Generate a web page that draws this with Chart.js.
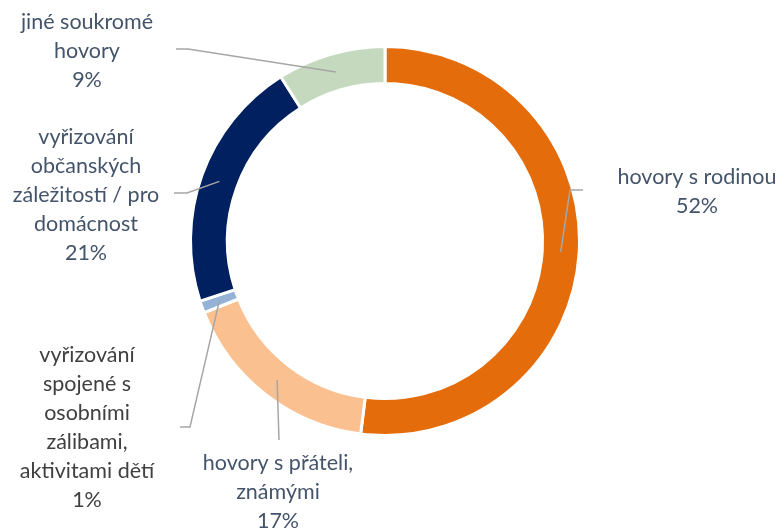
<!DOCTYPE html>
<html>
<head>
<meta charset="utf-8">
<script src="https://cdn.jsdelivr.net/npm/chart.js@4.4.0/dist/chart.umd.min.js"></script>
<style>
  html, body { margin: 0; padding: 0; background: #fff; }
  #wrap { width: 783px; height: 530px; }
</style>
</head>
<body>
<div id="wrap"><canvas id="myChart" width="783" height="530"></canvas></div>
<script>
const categories = [
    ['hovory s rodinou'],
    ['hovory s přáteli,', 'známými'],
    ['vyřizování', 'spojené s', 'osobními', 'zálibami,', 'aktivitami dětí'],
    ['vyřizování', 'občanských', 'záležitostí / pro', 'domácnost'],
    ['jiné soukromé', 'hovory']
]
const values = [52, 17, 1, 21, 9]
const colors = ['#E46C0A', '#FAC090', '#95B3D7', '#002060', '#C5D9BE']
const textColors = ['#44546A', '#44546A', '#404040', '#44546A', '#44546A']

// where each label sits and how its leader bends (layout only)
const labelPos = [
    { x: 697, y: 177, path: [[570, 190], [583, 190]] },
    { x: 278, y: 463, path: [[279, 440]] },
    { x: 87, y: 355, path: [[190, 427], [180, 427]] },
    { x: 86, y: 137, path: [[187, 193], [174, 193]] },
    { x: 87, y: 22, path: [[188, 49], [176, 49]] }
]

const lineHeight = 29

const labelPlugin = {
    id: 'outLabels',
    afterDatasetsDraw(chart) {
        const ctx = chart.ctx
        const arcs = chart.getDatasetMeta(0).data
        ctx.save()
        arcs.forEach((arc, i) => {
            const p = arc.getProps(['x', 'y', 'startAngle', 'endAngle', 'innerRadius', 'outerRadius'], true)
            const mid = (p.startAngle + p.endAngle) / 2
            const r = (p.innerRadius + p.outerRadius) / 2
            const pos = labelPos[i]
            ctx.beginPath()
            ctx.moveTo(p.x + Math.cos(mid) * r, p.y + Math.sin(mid) * r)
            pos.path.forEach(pt => ctx.lineTo(pt[0], pt[1]))
            ctx.strokeStyle = '#A6A6A6'
            ctx.lineWidth = 1.5
            ctx.stroke()

            const lines = categories[i].concat([values[i] + '%'])
            ctx.fillStyle = textColors[i]
            ctx.font = '21.5px Lato'
            ctx.textAlign = 'center'
            ctx.textBaseline = 'middle'
            lines.forEach((t, k) => ctx.fillText(t, pos.x, pos.y + k * lineHeight))
        })
        ctx.restore()
    }
}

const ctx = document.getElementById('myChart').getContext('2d')

const myChart = new Chart(ctx, {
    type: 'doughnut',
    data: {
        labels: categories.map(c => c.join(' ')),
        datasets: [{
            data: values,
            backgroundColor: colors,
            borderColor: '#ffffff',
            borderWidth: 3
        }]
    },
    options: {
        responsive: false,
        animation: false,
        cutout: '81%',
        layout: {
            padding: { top: 45, bottom: 93, left: 189, right: 202 }
        },
        plugins: {
            legend: { display: false },
            tooltip: { enabled: false }
        }
    },
    plugins: [labelPlugin]
})
</script>
</body>
</html>
